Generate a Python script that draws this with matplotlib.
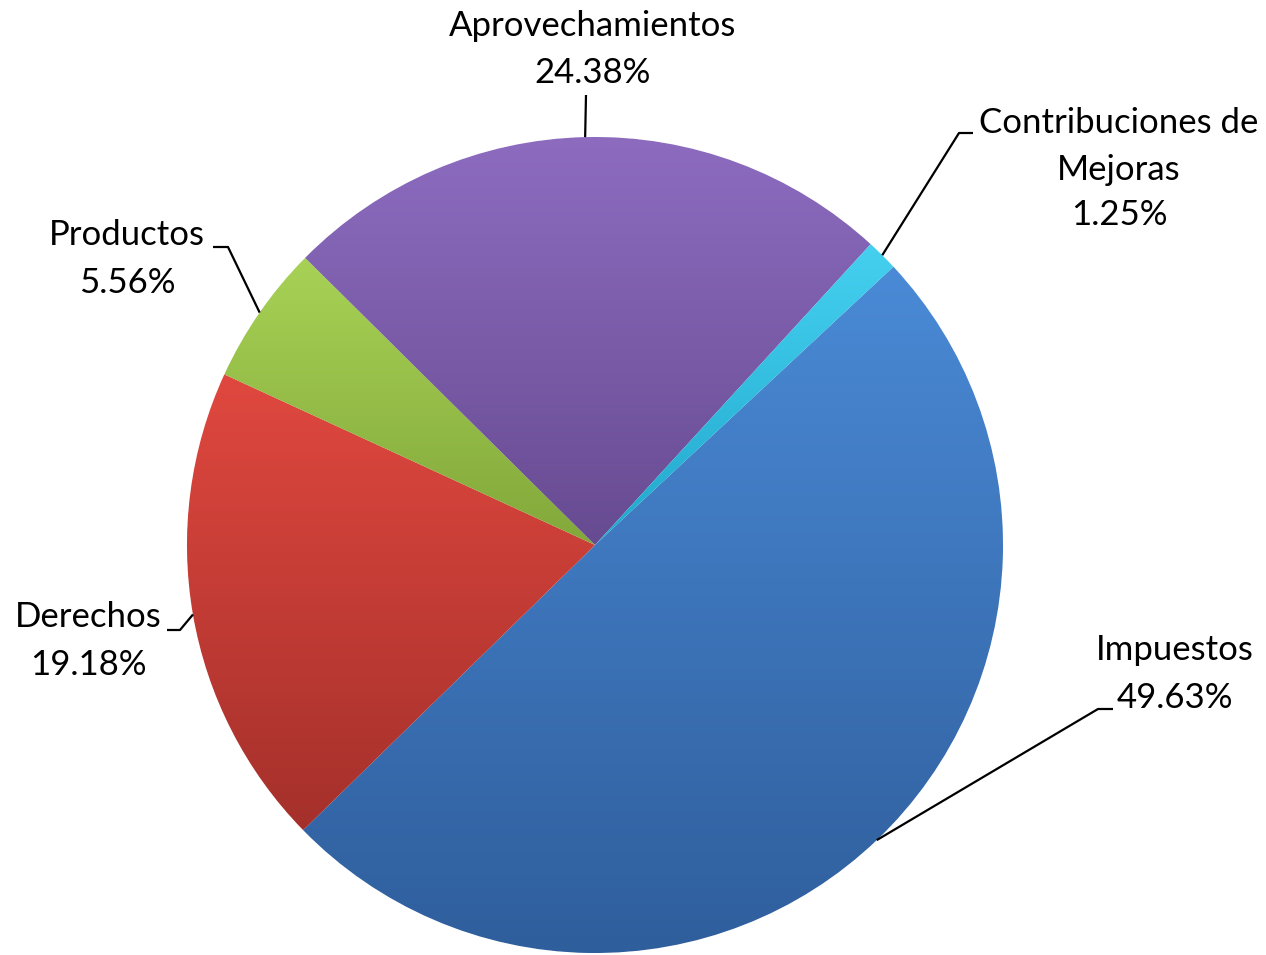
import matplotlib.pyplot as plt
import numpy as np
from matplotlib.colors import LinearSegmentedColormap

# datos (porcentaje de ingresos)
categorias = ["Impuestos", "Derechos", "Productos", "Aprovechamientos",
              "Contribuciones de\nMejoras"]
valores = [49.63, 19.18, 5.56, 24.38, 1.25]

# colores: claro (arriba) -> oscuro (abajo)
colores = [("#4a8ad6", "#2f5e9c"),
           ("#e0483f", "#a5302b"),
           ("#a8d256", "#82a83a"),
           ("#8d6cc0", "#674b91"),
           ("#45d0f0", "#20a8cc")]

plt.rcParams['font.family'] = ['Lato', 'DejaVu Sans']

W, H = 1266, 955
cx, cy, r = 595, H - 545, 408

fig = plt.figure(figsize=(W / 100, H / 100), dpi=100)
ax = fig.add_axes([0, 0, 1, 1])

wedges, _ = ax.pie(valores, startangle=43, counterclock=False, center=(cx, cy),
                   radius=r, colors=[c[1] for c in colores],
                   wedgeprops=dict(linewidth=0.8, edgecolor="#ffffff"))

grad = np.linspace(0, 1, 256).reshape(-1, 1)
for w, (c1, c2) in zip(wedges, colores):
    bb = w.get_path().get_extents()
    cmap = LinearSegmentedColormap.from_list("g", [c1, c2])
    im = ax.imshow(grad, cmap=cmap, extent=(bb.x0, bb.x1, bb.y0, bb.y1),
                   origin="upper", aspect="auto", zorder=2, interpolation="bilinear")
    im.set_clip_path(w)

# posiciones de las etiquetas (centro x, lineas base en pixeles desde arriba)
pos_etiquetas = [
    (1175, [660, 708], (1113, 709), (1098, 709)),
    (88, [627, 675], (167, 630), (180, 630)),
    (127, [245, 293], (213, 247), (228, 247)),
    (593, [36, 83], None, (586, 95)),
    (1119, [133, 180, 225], (973, 133), (959, 133)),
]

for w, nombre, v, (x, bases, p_txt, p_codo) in zip(wedges, categorias, valores, pos_etiquetas):
    lineas = nombre.split("\n") + ["%.2f%%" % v]
    for linea, b in zip(lineas, bases):
        ax.text(x, H - b, linea, ha="center", va="baseline", fontsize=25, color="black")
    ang = np.deg2rad((w.theta1 + w.theta2) / 2)
    px, py = cx + r * np.cos(ang), cy + r * np.sin(ang)
    xs = [px, p_codo[0]]
    ys = [py, H - p_codo[1]]
    if p_txt is not None:
        xs.append(p_txt[0])
        ys.append(H - p_txt[1])
    ax.plot(xs, ys, color="black", lw=1.6, zorder=3, solid_capstyle="butt")

ax.set_xlim(0, W)
ax.set_ylim(0, H)
ax.set_aspect("auto")
ax.axis("off")

fig.savefig("out.png", dpi=100)
